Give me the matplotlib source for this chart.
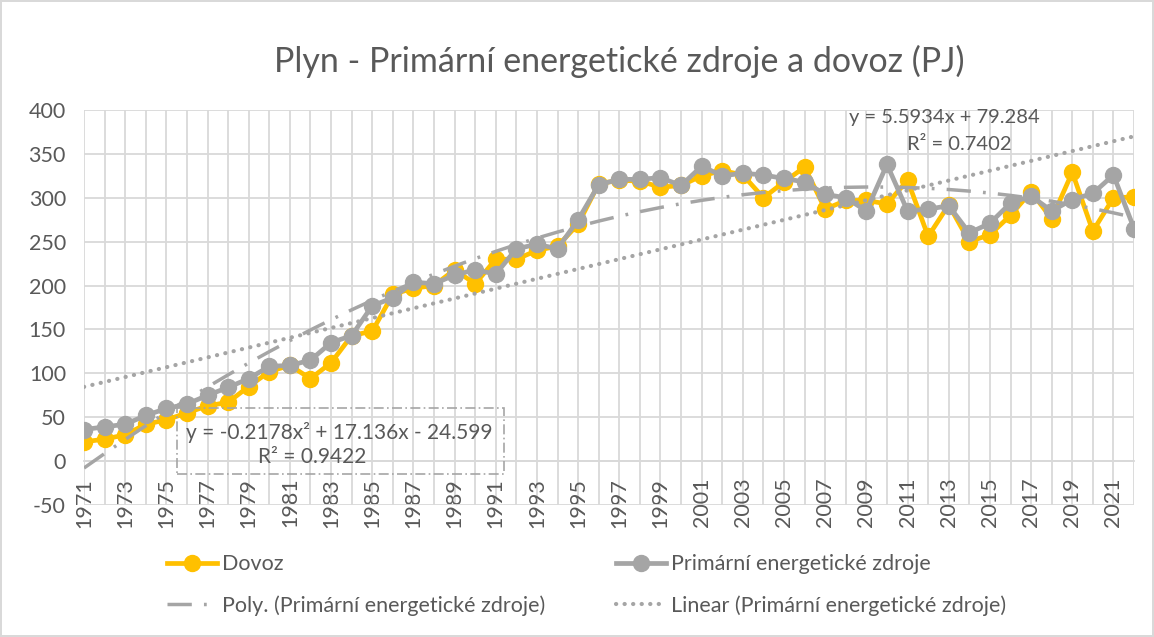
import numpy as np
import matplotlib.pyplot as plt
from matplotlib.patches import Rectangle

plt.rcParams['font.family'] = ['Lato', 'DejaVu Sans']
plt.rcParams['axes.unicode_minus'] = False

years = list(range(1971, 2023))

# Dovoz (PJ)
dovoz = [22, 25, 30, 42, 47, 55, 63, 67, 85, 102,
         109, 94, 112, 143, 148, 190, 197, 200, 218, 202,
         230, 230, 240, 245, 270, 316, 320, 319, 312, 314,
         325, 331, 326, 300, 318, 335, 287, 297, 297, 293,
         320, 256, 292, 250, 258, 280, 307, 276, 329, 262,
         300, 301]

# Primární energetické zdroje (PJ)
pez = [36, 39, 42, 52, 60, 65, 75, 84, 94, 108,
       109, 115, 135, 143, 177, 186, 204, 202, 212, 218,
       213, 242, 247, 242, 275, 315, 321, 321, 323, 314,
       336, 325, 328, 326, 322, 318, 304, 300, 285, 338,
       285, 287, 291, 260, 271, 294, 302, 285, 298, 305,
       326, 265]

poly_label = "y = -0.2178x\u00b2 + 17.136x - 24.599"
poly_r2 = "R\u00b2 = 0.9422"
lin_label = "y = 5.5934x + 79.284"
lin_r2 = "R\u00b2 = 0.7402"

YELLOW = '#FFC000'
GRAY = '#A5A5A5'
TXT = '#595959'
GRID = '#D9D9D9'

# trendlines, as Excel does: fit on x = 1..n
xs = np.arange(1, len(years) + 1)
p2 = np.polyfit(xs, pez, 2)
p1 = np.polyfit(xs, pez, 1)

fig = plt.figure(figsize=(11.54, 6.37), dpi=100)
fig.patch.set_edgecolor(GRID)
fig.patch.set_linewidth(1.5)
ax = fig.add_axes([0.0728, 0.2072, 0.9099, 0.6201])

l1, = ax.plot(years, dovoz, color=YELLOW, lw=3.4, marker='o', ms=11.5,
              label='Dovoz', zorder=3)
l2, = ax.plot(years, pez, color=GRAY, lw=3.4, marker='o', ms=11.5,
              label='Primární energetické zdroje', zorder=4)
l3, = ax.plot(years, np.polyval(p2, xs), color=GRAY, lw=2.5,
              linestyle=(0, (7, 3.5, 0.8, 3.5)),
              label='Poly. (Primární energetické zdroje)', zorder=5)
l4, = ax.plot(years, np.polyval(p1, xs), color=GRAY, lw=3.0,
              linestyle=(0, (0.05, 2.0)), dash_capstyle='round',
              label='Linear (Primární energetické zdroje)', zorder=5)

ax.set_xlim(1971, 2022)
ax.set_ylim(-50, 400)
ax.set_yticks(range(-50, 401, 50))
ax.set_xticks(range(1971, 2023, 2))
ax.set_xticks(years, minor=True)
ax.grid(True, which='both', color=GRID, lw=1.3, zorder=0)
ax.set_axisbelow(True)
for s in ['top', 'right', 'left']:
    ax.spines[s].set_visible(False)
ax.spines['bottom'].set_position(('data', 0))
ax.spines['bottom'].set_color(GRID)
ax.spines['bottom'].set_linewidth(1.3)
ax.tick_params(axis='x', which='both', length=0, pad=12, labelsize=15.5,
               labelcolor=TXT, labelrotation=90)
ax.tick_params(axis='y', length=0, pad=13, labelsize=15.5, labelcolor=TXT)

# trendline equations
ax.text(2012.8, 392, lin_label, ha='center', va='center', fontsize=14.5, color=TXT, zorder=6)
ax.text(2013.5, 361, lin_r2, ha='center', va='center', fontsize=14.5, color=TXT, zorder=6)
ax.add_patch(Rectangle((1975.5, -14.8), 15.9, 75.3, fill=False, edgecolor=GRAY,
                       lw=1.2, linestyle=(0, (6, 2, 1, 2)), zorder=6))
ax.text(1983.4, 33, poly_label, ha='center', va='center', fontsize=15, color=TXT, zorder=6)
ax.text(1982.1, 4.6, poly_r2, ha='center', va='center', fontsize=15, color=TXT, zorder=6)

fig.text(0.537, 0.903, 'Plyn - Primární energetické zdroje a dovoz (PJ)',
         ha='center', va='center', fontsize=24.5, color=TXT)

fig.legend(handles=[l1, l3, l2, l4], ncol=2, loc='upper left',
           bbox_to_anchor=(0.128, 0.16), frameon=False, fontsize=15.5,
           labelcolor=TXT, handlelength=2.3, handletextpad=0.25,
           columnspacing=3.3, labelspacing=0.95)

fig.savefig('out.png', dpi=100)
